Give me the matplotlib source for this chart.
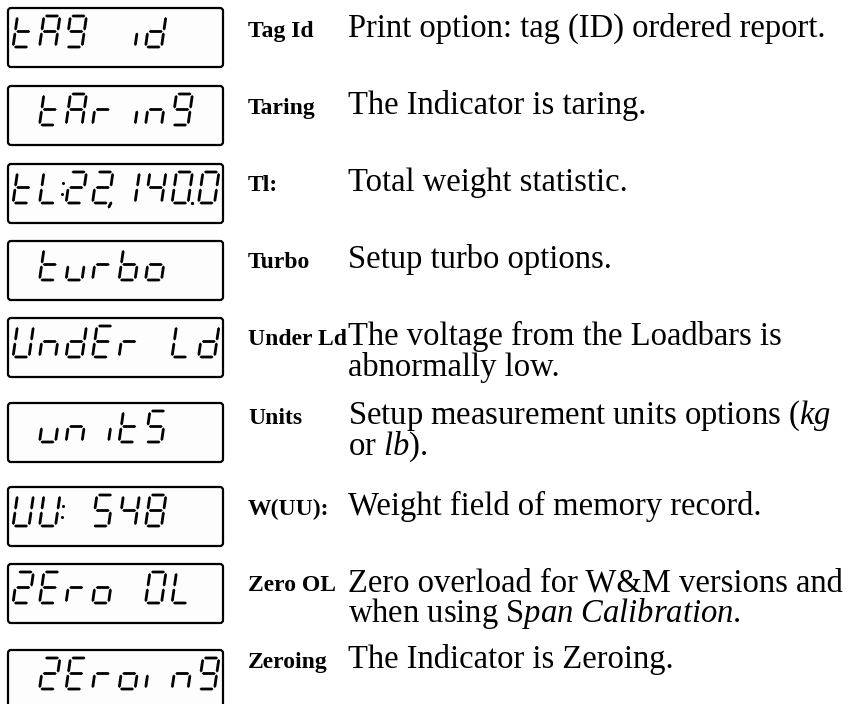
import numpy as np
import matplotlib.pyplot as plt
from matplotlib.patches import FancyBboxPatch

plt.rcParams['font.family'] = 'Liberation Serif'
plt.rcParams['mathtext.fontset'] = 'custom'
plt.rcParams['mathtext.rm'] = 'Liberation Serif'
plt.rcParams['mathtext.it'] = 'Liberation Serif:italic'

# display contents: list of (cell, glyph) ; ':' ',' '.' are drawn after a cell
displays = [
    [(0, 't'), (1, 'A'), (2, '9'), (4, 'i'), (5, 'd')],
    [(1, 't'), (2, 'A'), (3, 'r'), (4, 'i'), (5, 'n'), (6, '9')],
    [(0, 't'), (1, 'L'), (1, ':'), (2, '2'), (3, '2'), (3, ','), (4, '1'), (5, '4'), (6, '0'), (6, '.'), (7, '0')],
    [(1, 't'), (2, 'u'), (3, 'r'), (4, 'b'), (5, 'o')],
    [(0, 'U'), (1, 'n'), (2, 'd'), (3, 'E'), (4, 'r'), (6, 'L'), (7, 'd')],
    [(1, 'u'), (2, 'n'), (3, 'i'), (4, 't'), (5, '5')],
    [(0, 'U'), (1, 'U'), (1, ':'), (3, '5'), (4, '4'), (5, '8')],
    [(0, '2'), (1, 'E'), (2, 'r'), (3, 'o'), (5, '0'), (6, 'L')],
    [(1, '2'), (2, 'E'), (3, 'r'), (4, 'o'), (5, 'I'), (6, 'n'), (7, '9')],
]

labels = ["Tag Id", "Taring", "Tl:", "Turbo", "Under Ld", "Units", "W(UU):", "Zero OL", "Zeroing"]

descriptions = [
    ["Print option: tag (ID) ordered report."],
    ["The Indicator is taring."],
    ["Total weight statistic."],
    ["Setup turbo options."],
    ["The voltage from the Loadbars is", "abnormally low."],
    [r"Setup measurement units options ($\mathit{kg}$", r"or $\mathit{lb}$)."],
    ["Weight field of memory record."],
    ["Zero overload for W&M versions and", r"when using S$\mathit{pan\ Calibration}$."],
    ["The Indicator is Zeroing."],
]

# layout (pixels)
box_top = [7, 85, 163, 240, 317, 402, 486, 563, 649]
text_base = [37, 114, 191, 268, 345, 424, 515, 591, 668]

segments = {
    't': 'defg', 'A': 'abcefg', '9': 'abcdfg', 'i': 'c', 'I': 'e', 'd': 'bcdeg',
    'r': 'eg', 'n': 'ceg', 'L': 'def', '2': 'abdeg', '1': 'bc', '4': 'bcfg',
    '0': 'abcdef', 'u': 'cde', 'b': 'cdefg', 'o': 'cdeg', 'U': 'bcdef',
    'E': 'adefg', '5': 'acdfg', '8': 'abcdefg',
}

W, H, SL, GAP, TH = 16.0, 31.0, 4.5, 1.0, 2.8


def pt(x0, y0, u, v):
    # u across (0..1), v up (0..1) from bottom-left of glyph
    return np.array([x0 + u * W + v * SL, y0 - v * H])


def seg_poly(ax, A, B):
    d = B - A
    d = d / np.hypot(*d)
    n = np.array([-d[1], d[0]])
    h = TH / 2
    P = np.array([A, A + d * h + n * h, B - d * h + n * h, B, B - d * h - n * h, A + d * h - n * h])
    ax.fill(P[:, 0], P[:, 1], color='black', lw=0)


def draw_glyph(ax, x0, y0, ch):
    g = GAP / H
    gx = GAP / W
    seg_ends = {
        'a': ((gx, 1), (1 - gx, 1)),
        'b': ((1, 1 - g), (1, 0.5 + g)),
        'c': ((1, 0.5 - g), (1, g)),
        'd': ((gx, 0), (1 - gx, 0)),
        'e': ((0, g), (0, 0.5 - g)),
        'f': ((0, 0.5 + g), (0, 1 - g)),
        'g': ((gx, 0.5), (1 - gx, 0.5)),
    }
    for s in segments[ch]:
        (u1, v1), (u2, v2) = seg_ends[s]
        seg_poly(ax, pt(x0, y0, u1, v1), pt(x0, y0, u2, v2))


fig = plt.figure(figsize=(8.53, 7.04), dpi=100)
ax = fig.add_axes([0, 0, 1, 1])
ax.set_xlim(0, 853)
ax.set_ylim(704, 0)
ax.axis('off')

for k, disp in enumerate(displays):
    top = box_top[k]
    ax.add_patch(FancyBboxPatch((8, top + 1), 215, 59,
                                boxstyle='round,pad=0,rounding_size=3',
                                fc='#fdfdfd', ec='black', lw=1.6))
    y0 = top + 9 + H
    for cell, ch in disp:
        x0 = 13 + 26.5 * cell
        if ch == ':':
            for v in (0.3, 0.65):
                xa, ya = pt(x0 + W + 5, y0, 0, v)
                ax.plot(xa, ya, 'o', color='black', ms=2.2, mew=0)
        elif ch == '.':
            xa, ya = pt(x0 + W + 4, y0, 0, 0)
            ax.plot(xa, ya, 'o', color='black', ms=2.4, mew=0)
        elif ch == ',':
            A = pt(x0 + W + 3, y0, 0, 0.05)
            seg_poly(ax, A, A + np.array([-3.5, 7]))
        else:
            draw_glyph(ax, x0, y0, ch)

    ax.text(248, text_base[k], labels[k], fontsize=17, fontweight='bold', va='baseline')
    for j, line in enumerate(descriptions[k]):
        ax.text(348, text_base[k] + 31 * j, line, fontsize=23.5, va='baseline')

fig.savefig('out.png', dpi=100, facecolor='white')
